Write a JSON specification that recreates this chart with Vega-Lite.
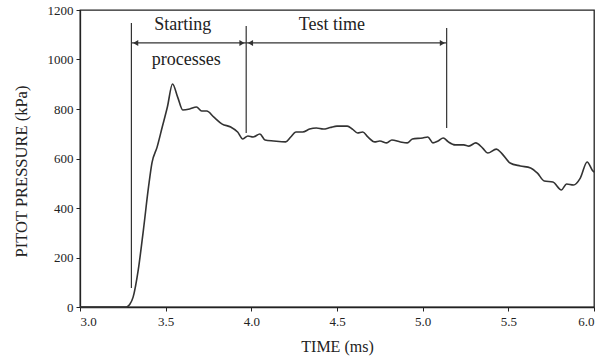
{
  "$schema": "https://vega.github.io/schema/vega-lite/v6.json",
  "width": 514,
  "height": 297,
  "autosize": "none",
  "padding": {"left": 80, "top": 10, "right": 3, "bottom": 56},
  "background": "white",
  "config": {
    "view": {"stroke": "#222", "strokeWidth": 1.3},
    "axis": {
      "labelFont": "Liberation Serif",
      "labelFontSize": 13,
      "labelColor": "#222",
      "titleFont": "Liberation Serif",
      "titleFontSize": 15,
      "titleFontWeight": "normal",
      "titleColor": "#222",
      "domainColor": "#222",
      "domainWidth": 1.3,
      "tickColor": "#222",
      "tickSize": 4,
      "grid": false
    },
    "text": {"font": "Liberation Serif"}
  },
  "datasets": {
    "curve": [
      {"t": 3.0, "p": 0}, {"t": 3.27, "p": 0}, {"t": 3.29, "p": 10},
      {"t": 3.31, "p": 40}, {"t": 3.34, "p": 150}, {"t": 3.37, "p": 311},
      {"t": 3.40, "p": 485}, {"t": 3.42, "p": 582}, {"t": 3.45, "p": 646},
      {"t": 3.48, "p": 727}, {"t": 3.51, "p": 808}, {"t": 3.54, "p": 901},
      {"t": 3.57, "p": 848}, {"t": 3.60, "p": 796}, {"t": 3.64, "p": 800},
      {"t": 3.68, "p": 808}, {"t": 3.71, "p": 792}, {"t": 3.74, "p": 792},
      {"t": 3.78, "p": 768}, {"t": 3.83, "p": 739}, {"t": 3.88, "p": 727},
      {"t": 3.92, "p": 707}, {"t": 3.95, "p": 679}, {"t": 3.98, "p": 691},
      {"t": 4.01, "p": 687}, {"t": 4.05, "p": 699}, {"t": 4.08, "p": 675},
      {"t": 4.13, "p": 671}, {"t": 4.20, "p": 667}, {"t": 4.23, "p": 687},
      {"t": 4.26, "p": 707}, {"t": 4.30, "p": 707}, {"t": 4.34, "p": 719},
      {"t": 4.38, "p": 723}, {"t": 4.42, "p": 719}, {"t": 4.46, "p": 725},
      {"t": 4.50, "p": 731}, {"t": 4.56, "p": 731}, {"t": 4.59, "p": 719},
      {"t": 4.62, "p": 703}, {"t": 4.65, "p": 707}, {"t": 4.68, "p": 687},
      {"t": 4.72, "p": 667}, {"t": 4.75, "p": 671}, {"t": 4.79, "p": 663},
      {"t": 4.82, "p": 675}, {"t": 4.87, "p": 667}, {"t": 4.91, "p": 663},
      {"t": 4.94, "p": 679}, {"t": 5.00, "p": 683}, {"t": 5.03, "p": 687},
      {"t": 5.06, "p": 663}, {"t": 5.09, "p": 671}, {"t": 5.12, "p": 683},
      {"t": 5.15, "p": 667}, {"t": 5.19, "p": 655}, {"t": 5.24, "p": 655},
      {"t": 5.27, "p": 650}, {"t": 5.31, "p": 663}, {"t": 5.35, "p": 642},
      {"t": 5.38, "p": 622}, {"t": 5.43, "p": 638}, {"t": 5.46, "p": 622},
      {"t": 5.51, "p": 582}, {"t": 5.57, "p": 570}, {"t": 5.63, "p": 562},
      {"t": 5.67, "p": 541}, {"t": 5.71, "p": 509}, {"t": 5.76, "p": 505},
      {"t": 5.81, "p": 473}, {"t": 5.84, "p": 497}, {"t": 5.88, "p": 493},
      {"t": 5.92, "p": 521}, {"t": 5.96, "p": 586}, {"t": 5.99, "p": 553},
      {"t": 6.0, "p": 545}
    ],
    "vlines": [
      {"t": 3.30, "p1": 77, "p2": 1147},
      {"t": 3.97, "p1": 703, "p2": 1135},
      {"t": 5.14, "p1": 723, "p2": 1127}
    ],
    "hlines": [
      {"t1": 3.30, "t2": 3.97, "p": 1067},
      {"t1": 3.97, "t2": 5.14, "p": 1067}
    ],
    "arrows": [
      {"t": 3.325, "p": 1067, "dir": "left"},
      {"t": 3.945, "p": 1067, "dir": "right"},
      {"t": 3.995, "p": 1067, "dir": "left"},
      {"t": 5.115, "p": 1067, "dir": "right"}
    ],
    "labels": [
      {"t": 3.60, "p": 1139, "text": "Starting"},
      {"t": 3.62, "p": 998, "text": "processes"},
      {"t": 4.47, "p": 1139, "text": "Test  time"}
    ]
  },
  "layer": [
    {
      "data": {"name": "curve"},
      "mark": {"type": "line", "color": "#333", "strokeWidth": 1.6, "interpolate": "monotone"},
      "encoding": {
        "x": {"field": "t", "type": "quantitative", "scale": {"domain": [3, 6], "nice": false, "zero": false},
          "axis": {"values": [3, 3.5, 4, 4.5, 5, 5.5, 6], "format": ".1f", "title": "TIME (ms)", "titleFontSize": 16, "titlePadding": 10, "labelPadding": 4}},
        "y": {"field": "p", "type": "quantitative", "scale": {"domain": [0, 1200], "nice": false},
          "axis": {"values": [0, 200, 400, 600, 800, 1000, 1200], "format": "d", "title": "PITOT PRESSURE (kPa)", "titleFontSize": 16.5, "titleY": 161, "titlePadding": 18, "labelPadding": 3}}
      }
    },
    {
      "data": {"name": "vlines"},
      "mark": {"type": "rule", "color": "#333", "strokeWidth": 1.2},
      "encoding": {
        "x": {"field": "t", "type": "quantitative"},
        "y": {"field": "p1", "type": "quantitative"},
        "y2": {"field": "p2"}
      }
    },
    {
      "data": {"name": "hlines"},
      "mark": {"type": "rule", "color": "#333", "strokeWidth": 1.2},
      "encoding": {
        "x": {"field": "t1", "type": "quantitative"},
        "x2": {"field": "t2"},
        "y": {"field": "p", "type": "quantitative"}
      }
    },
    {
      "data": {"name": "arrows"},
      "mark": {"type": "point", "filled": true, "color": "#333", "size": 35, "opacity": 1},
      "encoding": {
        "x": {"field": "t", "type": "quantitative"},
        "y": {"field": "p", "type": "quantitative"},
        "shape": {"field": "dir", "type": "nominal", "scale": {"domain": ["left", "right"], "range": ["triangle-left", "triangle-right"]}, "legend": null}
      }
    },
    {
      "data": {"name": "labels"},
      "mark": {"type": "text", "fontSize": 18, "color": "#222", "baseline": "middle", "align": "center"},
      "encoding": {
        "x": {"field": "t", "type": "quantitative"},
        "y": {"field": "p", "type": "quantitative"},
        "text": {"field": "text"}
      }
    }
  ]
}
